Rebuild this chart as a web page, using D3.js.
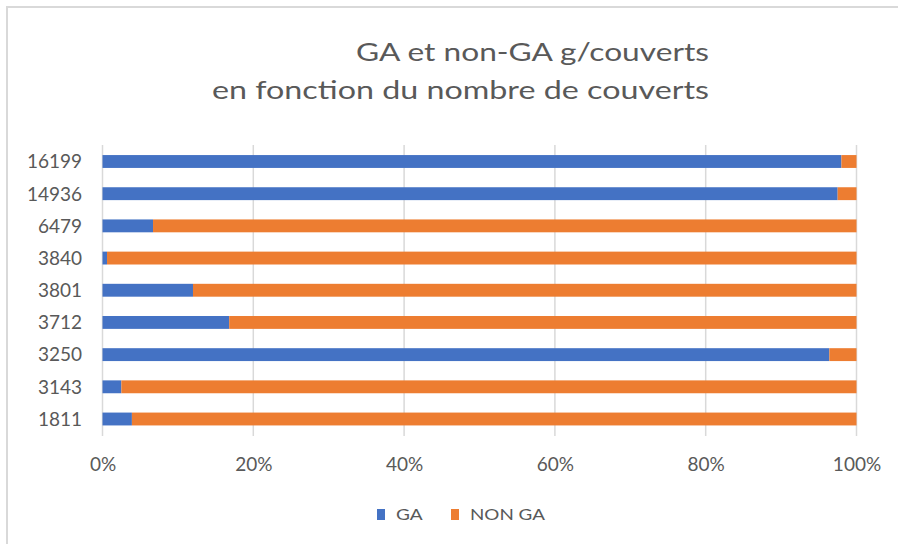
<!DOCTYPE html>
<html><head><meta charset="utf-8">
<script src="https://cdn.jsdelivr.net/npm/d3@7"></script>
<style>
body{margin:0;background:#fff;}
text{font-family:Lato, "Open Sans", sans-serif;fill:#595959;}
</style></head>
<body><svg id="c" width="898" height="544"></svg>
<script>
const categories = ["16199","14936","6479","3840","3801","3712","3250","3143","1811"];
const gaShare    = [0.980, 0.975, 0.067, 0.006, 0.120, 0.168, 0.964, 0.025, 0.039];
const nonGaShare = gaShare.map(v => 1 - v);
const seriesNames = ["GA","NON GA"];
const colors = ["#4472C4","#ED7D31"];
const xTicks = [0,0.2,0.4,0.6,0.8,1];
const titleLines = ["GA et non-GA g/couverts","en fonction du nombre de couverts"];

const svg = d3.select("#c");
svg.append("rect").attr("width",898).attr("height",544).attr("fill","#fff");
svg.append("path").attr("d","M7,544V7H898").attr("fill","none").attr("stroke","#d9d9d9").attr("stroke-width",2);

const x = d3.scaleLinear().domain([0,1]).range([102.5,856.5]);
const y = d3.scaleBand().domain(categories).range([145.4,435.1]).paddingInner(0.6).paddingOuter(0.3);

// gridlines
svg.append("g").selectAll("line").data(xTicks).join("line")
  .attr("x1",d=>x(d)).attr("x2",d=>x(d)).attr("y1",145).attr("y2",436)
  .attr("stroke","#d9d9d9").attr("stroke-width",1.5);

// stacked data
const rows = categories.map((c,i)=>({cat:c, GA:gaShare[i], "NON GA":nonGaShare[i]}));
const stack = d3.stack().keys(seriesNames)(rows);
svg.append("g").selectAll("g").data(stack).join("g")
  .attr("fill",(d,i)=>colors[i])
  .selectAll("rect").data(d=>d).join("rect")
  .attr("x",d=>x(d[0])).attr("width",d=>x(d[1])-x(d[0]))
  .attr("y",d=>y(d.data.cat)).attr("height",y.bandwidth());

// y labels
const ya = svg.append("g").attr("transform","translate(82,0)")
  .call(d3.axisLeft(y).tickSize(0).tickPadding(0));
ya.select(".domain").remove();
ya.selectAll("text").attr("font-size",19).style("font-family","Lato").attr("fill","#595959").attr("dy","0.36em");

// x labels
const xa = svg.append("g").attr("transform","translate(0,452)")
  .call(d3.axisBottom(x).tickValues(xTicks).tickFormat(d3.format(".0%")).tickSize(0).tickPadding(0));
xa.select(".domain").remove();
xa.selectAll("text").attr("font-size",19).style("font-family","Lato").attr("fill","#595959").attr("dy","0.99em");

// title
const titleW = [353, 497];
svg.append("g").selectAll("text").data(titleLines).join("text")
  .attr("x",(d,i)=>709-titleW[i]).attr("y",(d,i)=>61+i*38)
  .attr("font-size",25).attr("textLength",(d,i)=>titleW[i]).attr("lengthAdjust","spacingAndGlyphs").text(d=>d);

// legend
const lg = svg.append("g");
const lx = [377,451];
const lw = [26.7,75];
seriesNames.forEach((s,i)=>{
  lg.append("rect").attr("x",lx[i]).attr("y",509).attr("width",8).attr("height",11).attr("fill",colors[i]);
  lg.append("text").attr("x",lx[i]+19).attr("y",520).attr("font-size",15.5)
    .attr("textLength",lw[i]).attr("lengthAdjust","spacingAndGlyphs").text(s);
});
</script></body></html>
